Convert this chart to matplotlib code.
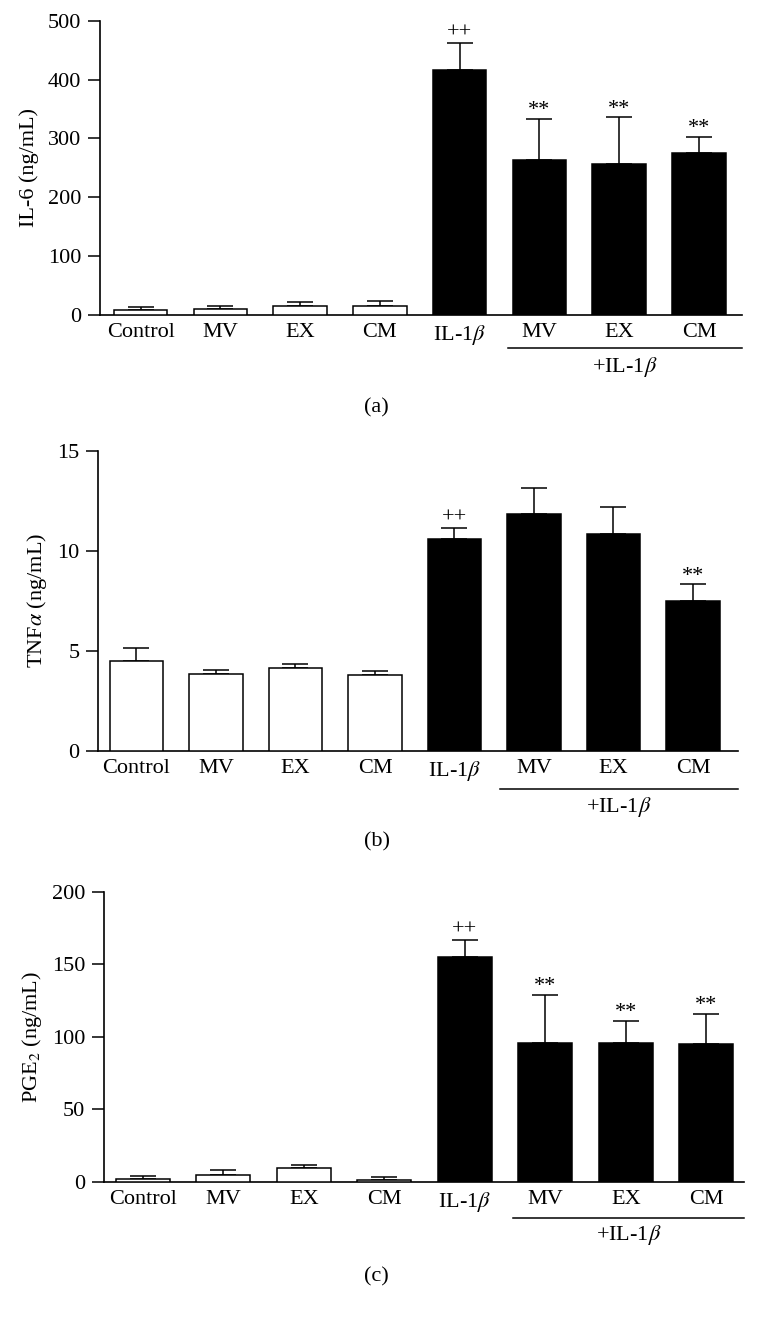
import matplotlib
matplotlib.use("Agg")
import matplotlib.pyplot as plt
import matplotlib.transforms as mtransforms
import numpy as np

plt.rcParams["font.family"] = ["Liberation Serif", "DejaVu Serif"]
plt.rcParams["mathtext.fontset"] = "stix"

# data
categories = ["Control", "MV", "EX", "CM", "IL-1$\\beta$", "MV", "EX", "CM"]
fill_colors = ["white"] * 4 + ["black"] * 4

il6_mean = [9, 11, 16, 16, 417, 263, 257, 276]
il6_err = [5, 4, 6, 8, 45, 70, 79, 27]
il6_marks = ["", "", "", "", "++", "**", "**", "**"]

tnf_mean = [4.48, 3.85, 4.15, 3.78, 10.6, 11.83, 10.82, 7.5]
tnf_err = [0.64, 0.2, 0.18, 0.22, 0.52, 1.32, 1.36, 0.83]
tnf_marks = ["", "", "", "", "++", "", "", "**"]

pge_mean = [1.6, 4.8, 9.2, 1.2, 155.4, 95.6, 95.6, 95.1]
pge_err = [2.1, 3.5, 2.5, 2.0, 11.3, 33.3, 15.4, 20.9]
pge_marks = ["", "", "", "", "++", "**", "**", "**"]

panels = [
    dict(mean=il6_mean, err=il6_err, marks=il6_marks, ylabel="IL-6 (ng/mL)",
         ylim=500, yticks=[0, 100, 200, 300, 400, 500], tag="(a)",
         rect=[0.1319, 0.7615, 0.847, 0.2228], xlim=(-0.51, 7.54),
         line_x0=4.61, line_y=-0.112, text_y=-0.177, tag_y=1 - 408 / 1321),
    dict(mean=tnf_mean, err=tnf_err, marks=tnf_marks, ylabel="TNF$\\alpha$ (ng/mL)",
         ylim=15, yticks=[0, 5, 10, 15], tag="(b)",
         rect=[0.1297, 0.4317, 0.8443, 0.2271], xlim=(-0.48, 7.57),
         line_x0=4.57, line_y=-0.128, text_y=-0.187, tag_y=1 - 841.7 / 1321),
    dict(mean=pge_mean, err=pge_err, marks=pge_marks, ylabel="PGE$_2$ (ng/mL)",
         ylim=200, yticks=[0, 50, 100, 150, 200], tag="(c)",
         rect=[0.1376, 0.1055, 0.844, 0.2193], xlim=(-0.48, 7.47),
         line_x0=4.6, line_y=-0.126, text_y=-0.184, tag_y=1 - 1276.7 / 1321),
]

fs = 16
fig = plt.figure(figsize=(7.58, 13.21), dpi=100)
x = np.arange(len(categories))

for p in panels:
    ax = fig.add_axes(p["rect"])
    ax.bar(x, p["mean"], width=0.67, color=fill_colors, edgecolor="black",
           linewidth=1.1, zorder=3)
    ax.errorbar(x, p["mean"], yerr=[np.zeros(len(x)), p["err"]], fmt="none",
                ecolor="black", elinewidth=1.1, capsize=9.5, capthick=1.1, zorder=2)
    for xi, m, e, s in zip(x, p["mean"], p["err"], p["marks"]):
        if s:
            off = 0.5 if s == "++" else -1
            ax.annotate(s, (xi, m + e), xytext=(0, off), textcoords="offset points",
                        ha="center", va="bottom", fontsize=16)
    ax.set_xlim(*p["xlim"])
    ax.set_ylim(0, p["ylim"])
    ax.set_yticks(p["yticks"])
    ax.set_xticks(x)
    ax.set_xticklabels(categories, fontsize=fs)
    ax.tick_params(axis="x", length=0, pad=6)
    ax.tick_params(axis="y", length=8.6, width=1.1, pad=5, labelsize=fs)
    ax.spines["top"].set_visible(False)
    ax.spines["right"].set_visible(False)
    ax.spines["left"].set_linewidth(1.2)
    ax.spines["bottom"].set_linewidth(1.2)
    ax.set_ylabel(p["ylabel"], fontsize=fs, labelpad=6)

    trans = mtransforms.blended_transform_factory(ax.transData, ax.transAxes)
    ax.plot([p["line_x0"], p["xlim"][1]], [p["line_y"], p["line_y"]], color="black",
            linewidth=1.1, transform=trans, clip_on=False)
    ax.text((p["line_x0"] + p["xlim"][1]) / 2, p["text_y"], "+IL-1$\\beta$",
            transform=trans, ha="center", va="center", fontsize=fs)
    fig.text(0.497, p["tag_y"], p["tag"], ha="center", va="center", fontsize=fs)

fig.savefig("out.png", dpi=100)
